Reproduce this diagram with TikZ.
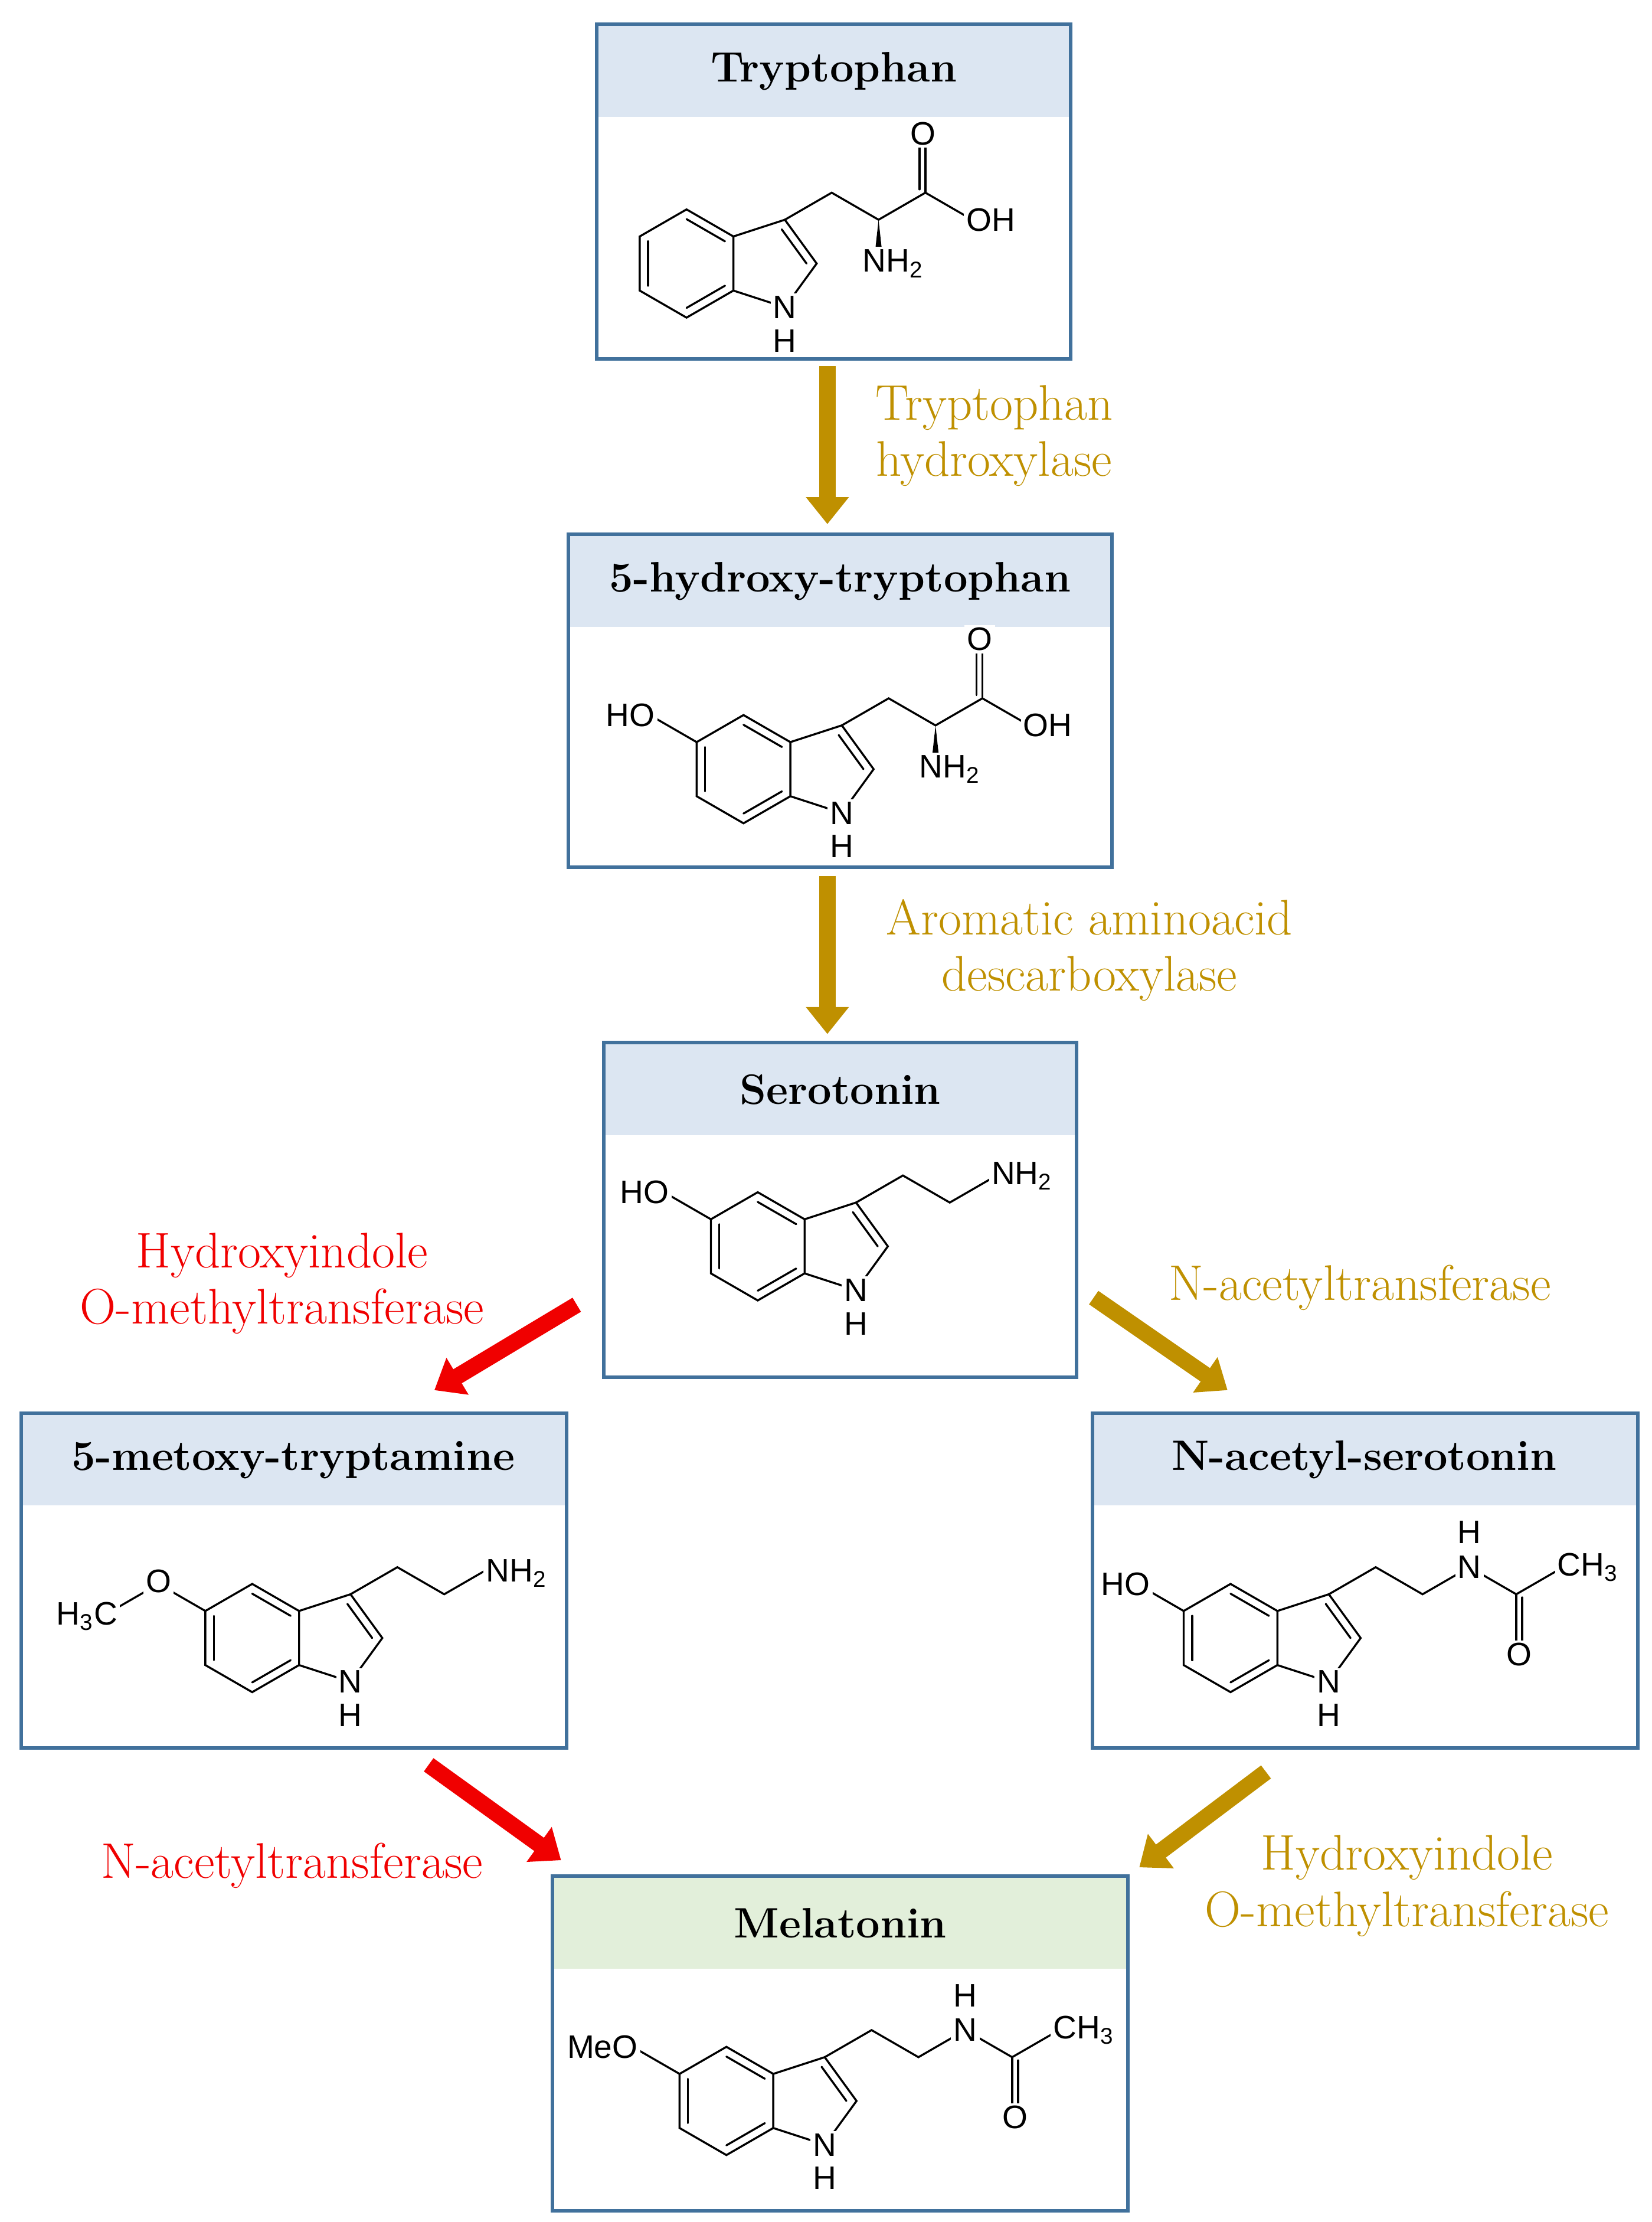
\documentclass[tikz,border=0pt]{standalone}
\usepackage{fontspec}
\newfontfamily\chemfont{Liberation Sans}
\usetikzlibrary{arrows.meta,calc}
\definecolor{boxblue}{RGB}{65,113,156}
\definecolor{hdrblue}{RGB}{220,230,242}
\definecolor{hdrgreen}{RGB}{226,239,218}
\definecolor{gold}{RGB}{191,144,0}
\definecolor{redarr}{RGB}{240,0,0}
\tikzset{
 box/.style={draw=boxblue, line width=1.4pt},
 title/.style={font=\fontsize{17}{20}\selectfont\bfseries},
 enz/.style={font=\fontsize{20}{22.5}\selectfont, align=center},
 arr/.style={line width=0.23cm, -{Triangle[width=0.58cm,length=0.38cm]}},
 garr/.style={arr, draw=gold, fill=gold},
 rarr/.style={arr, draw=redarr, fill=redarr},
 bond/.style={line width=0.8pt, line cap=round},
 atom/.style={font=\chemfont\fontsize{13}{13}\selectfont, fill=white, inner sep=1pt},
 mol/.style={x=0.76cm, y=0.76cm}
}
\newcommand{\indolering}{%
 \coordinate (A) at (0,0.5); \coordinate (B) at (0,-0.5);
 \coordinate (B1) at (-0.866,-1); \coordinate (B2) at (-1.732,-0.5);
 \coordinate (B3) at (-1.732,0.5); \coordinate (B4) at (-0.866,1);
 \coordinate (C3) at (0.951,0.809); \coordinate (C2) at (1.539,0); \coordinate (N1) at (0.951,-0.809);
 \coordinate (BC) at (-0.866,0); \coordinate (PC) at (0.688,0);
 \draw[bond] (A)--(B)--(B1)--(B2)--(B3)--(B4)--cycle;
 \draw[bond] (A)--(C3)--(C2)--(N1)--(B);
 \draw[bond] ($(B2)!0.18!(BC)$)--($(B3)!0.18!(BC)$);
 \draw[bond] ($(B4)!0.18!(BC)$)--($(A)!0.18!(BC)$);
 \draw[bond] ($(B)!0.18!(BC)$)--($(B1)!0.18!(BC)$);
 \draw[bond] ($(C3)!0.22!(PC)$)--($(C2)!0.22!(PC)$);
 \node[atom] (nn) at (N1) {N};
 \node[atom] (nh) at ($(N1)+(0,-0.62)$) {H};
}
\begin{document}
\begin{tikzpicture}[x=0.02cm,y=-0.02cm]
\useasboundingbox (0,0) rectangle (1160,1560);
% boxes
\fill[hdrblue] (419,17) rectangle (752,82); \draw[box] (419,17) rectangle (752,252);
\node[title] (t1) at (585.5,50) {Tryptophan};
\fill[hdrblue] (399,375) rectangle (781,440); \draw[box] (399,375) rectangle (781,609);
\node[title] (t2) at (590,408) {5-hydroxy-tryptophan};
\fill[hdrblue] (424,732) rectangle (756,797); \draw[box] (424,732) rectangle (756,967);
\node[title] (t3) at (590,765) {Serotonin};
\fill[hdrblue] (15,992) rectangle (398,1057); \draw[box] (15,992) rectangle (398,1227);
\node[title] (t4) at (206,1025) {5-metoxy-tryptamine};
\fill[hdrblue] (767,992) rectangle (1150,1057); \draw[box] (767,992) rectangle (1150,1227);
\node[title] (t5) at (958,1025) {N-acetyl-serotonin};
\fill[hdrgreen] (388,1317) rectangle (792,1382); \draw[box] (388,1317) rectangle (792,1552);
\node[title] (t6) at (590,1350) {Melatonin};
% arrows
\coordinate (a1s) at (581,257); \coordinate (a1e) at (581,368);
\coordinate (a2s) at (581,615); \coordinate (a2e) at (581,726);
\coordinate (a3s) at (405,916); \coordinate (a3e) at (305,976);
\coordinate (a4s) at (768,911); \coordinate (a4e) at (862,976);
\coordinate (a5s) at (301,1239); \coordinate (a5e) at (394,1306);
\coordinate (a6s) at (889,1244); \coordinate (a6e) at (800,1311);
\draw[garr] (a1s)--(a1e);
\draw[garr] (a2s)--(a2e);
\draw[rarr] (a3s)--(a3e);
\draw[garr] (a4s)--(a4e);
\draw[rarr] (a5s)--(a5e);
\draw[garr] (a6s)--(a6e);
% enzyme labels
\node[enz,text=gold] (e1) at (698,306) {Tryptophan\\hydroxylase};
\node[enz,text=gold] (e2) at (765,667) {Aromatic aminoacid\\descarboxylase};
\node[enz,text=redarr] (e3) at (198,901) {Hydroxyindole\\O-methyltransferase};
\node[enz,text=gold] (e4) at (955,904) {N-acetyltransferase};
\node[enz,text=redarr] (e5) at (205,1310) {N-acetyltransferase};
\node[enz,text=gold] (e6) at (988,1324) {Hydroxyindole\\O-methyltransferase};
% Tryptophan
\begin{scope}[shift={(515,185)},mol]
\indolering
\draw[bond] (C3)--(1.817,1.309)--(2.683,0.809)--(3.549,1.309)--(4.415,0.809);
\draw[bond] (3.549,1.309)--(3.549,2.3); \draw[bond] (3.44,1.37)--(3.44,2.3);
\fill (2.683,0.809)--(2.75,0.2)--(2.616,0.2)--cycle;
\node[atom] at (3.5,2.4) {O};
\node[atom,anchor=west] at (4.25,0.809) {OH};
\node[atom] at (2.95,0.0) {NH\textsubscript{2}};
\end{scope}
% 5-HTP
\begin{scope}[shift={(555,540)},mol]
\indolering
\draw[bond] (B3)--(-2.598,1);
\node[atom,anchor=east] at (-2.45,1) {HO};
\draw[bond] (C3)--(1.817,1.309)--(2.683,0.809)--(3.549,1.309)--(4.415,0.809);
\draw[bond] (3.549,1.309)--(3.549,2.3); \draw[bond] (3.44,1.37)--(3.44,2.3);
\fill (2.683,0.809)--(2.75,0.2)--(2.616,0.2)--cycle;
\node[atom] at (3.5,2.4) {O};
\node[atom,anchor=west] at (4.25,0.809) {OH};
\node[atom] at (2.95,0.0) {NH\textsubscript{2}};
\end{scope}
% Serotonin
\begin{scope}[shift={(565,875)},mol]
\indolering
\draw[bond] (B3)--(-2.598,1);
\node[atom,anchor=east] at (-2.45,1) {HO};
\draw[bond] (C3)--(1.817,1.309)--(2.683,0.809)--(3.549,1.309);
\node[atom,anchor=west] at (3.4,1.3) {NH\textsubscript{2}};
\end{scope}
% 5-metoxy-tryptamine
\begin{scope}[shift={(210,1150)},mol]
\indolering
\draw[bond] (B3)--(-2.598,1)--(-3.464,0.5);
\node[atom] at (-2.598,1.05) {O};
\node[atom,anchor=east] at (-3.3,0.4) {H\textsubscript{3}C};
\draw[bond] (C3)--(1.817,1.309)--(2.683,0.809)--(3.549,1.309);
\node[atom,anchor=west] at (3.4,1.2) {NH\textsubscript{2}};
\end{scope}
% N-acetyl-serotonin
\begin{scope}[shift={(897,1150)},mol]
\indolering
\draw[bond] (B3)--(-2.598,1);
\node[atom,anchor=east] at (-2.3,1) {HO};
\draw[bond] (C3)--(1.817,1.309)--(2.683,0.809)--(3.549,1.309)--(4.415,0.809)--(5.281,1.309);
\draw[bond] (4.415,0.809)--(4.415,-0.15); \draw[bond] (4.525,0.75)--(4.525,-0.15);
\node[atom] at (3.549,1.309) {N};
\node[atom] at (3.549,1.95) {H};
\node[atom] at (4.47,-0.3) {O};
\node[atom,anchor=west] at (5.12,1.309) {CH\textsubscript{3}};
\end{scope}
% Melatonin
\begin{scope}[shift={(543,1475)},mol]
\indolering
\draw[bond] (B3)--(-2.598,1);
\node[atom,anchor=east] at (-2.45,1) {MeO};
\draw[bond] (C3)--(1.817,1.309)--(2.683,0.809)--(3.549,1.309)--(4.415,0.809)--(5.281,1.309);
\draw[bond] (4.415,0.809)--(4.415,-0.15); \draw[bond] (4.525,0.75)--(4.525,-0.15);
\node[atom] at (3.549,1.309) {N};
\node[atom] at (3.549,1.95) {H};
\node[atom] at (4.47,-0.3) {O};
\node[atom,anchor=west] at (5.12,1.309) {CH\textsubscript{3}};
\end{scope}
\end{tikzpicture}
\end{document}
